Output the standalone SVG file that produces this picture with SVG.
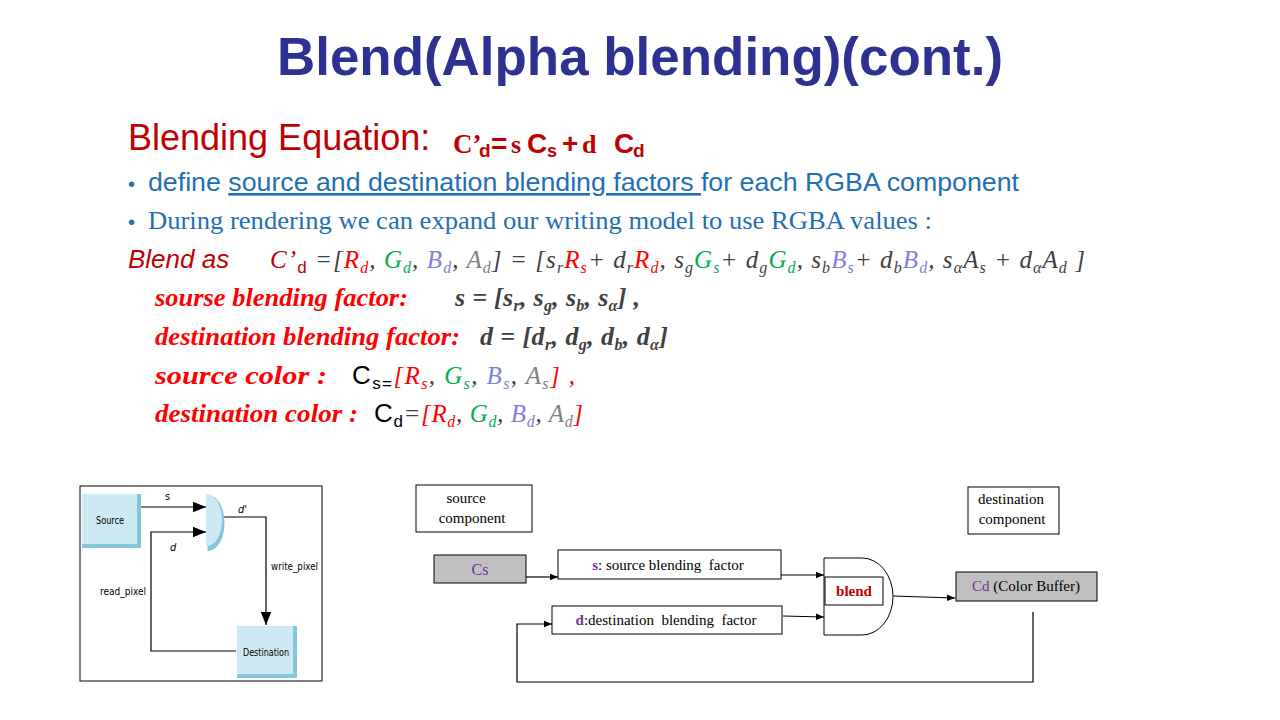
<svg xmlns="http://www.w3.org/2000/svg" width="1280" height="720" viewBox="0 0 1280 720">
<defs>
<marker id="ah" viewBox="0 0 10 10" refX="10" refY="5" markerWidth="8" markerHeight="8" markerUnits="userSpaceOnUse" orient="auto"><path d="M0,1 L10,5 L0,9 z" fill="#000"/></marker>
<marker id="ahL" viewBox="0 0 10 10" refX="10" refY="5" markerWidth="13" markerHeight="13" markerUnits="userSpaceOnUse" orient="auto"><path d="M0,1 L10,5 L0,9 z" fill="#000"/></marker>
</defs>
<style>
.sans{font-family:"Liberation Sans",Arial,sans-serif}
.serif{font-family:"Liberation Serif","Times New Roman",serif}
.eq{font-family:"Liberation Serif",serif;font-style:italic;font-size:25px;fill:#404040}
.bi{font-family:"Liberation Serif",serif;font-style:italic;font-weight:bold;font-size:26px}
.sub{font-size:16px}
.r{fill:#FF0000}.g{fill:#00B050}.b{fill:#8080E0}.a{fill:#808080}.k{fill:#404040}.dr{fill:#C00000}
.box{fill:#fff;stroke:#000;stroke-width:1}
.gbox{fill:#C0C0C0;stroke:#000;stroke-width:1}
.ln{fill:none;stroke:#000;stroke-width:1.2}
.lb{fill:#CDE9F3}
.lbs{fill:#86C5DB}
.small{font-family:"Liberation Serif",serif;font-size:15px;fill:#000;white-space:pre}
.cond{font-family:"Liberation Sans Narrow","DejaVu Sans Condensed","Liberation Sans",sans-serif;font-size:11px;fill:#000}
</style>
<rect width="1280" height="720" fill="#fff"/>

<g id="title">
<text x="640" y="75" text-anchor="middle" class="sans" font-weight="bold" font-size="53" fill="#2E3192" textLength="726" lengthAdjust="spacingAndGlyphs">Blend(Alpha  blending)(cont.)</text>
</g>

<g id="equation-heading">
<text x="128" y="150" class="sans" font-size="36" fill="#C00000">Blending Equation:</text>
<text y="153" fill="#C00000" font-weight="bold">
<tspan x="453" class="serif" font-size="27">C’</tspan><tspan x="479" class="sans" font-size="19" dy="4">d</tspan><tspan x="491" class="sans" font-size="28" dy="-4">=</tspan><tspan x="511" class="serif" font-size="26">s</tspan><tspan x="527" class="sans" font-size="28">C</tspan><tspan x="547" class="sans" font-size="18" dy="4">s</tspan><tspan x="562" dy="-4" class="sans" font-size="28">+</tspan><tspan x="582" class="serif" font-size="26">d</tspan><tspan x="614" class="sans" font-size="28">C</tspan><tspan x="633" class="sans" font-size="19" dy="4">d</tspan>
</text>
</g>

<g id="bullets" fill="#1F6FB4">
<text x="128" y="191" class="sans" font-size="20">•</text>
<text x="148" y="191" class="sans" font-size="26" textLength="871" lengthAdjust="spacingAndGlyphs">define <tspan text-decoration="underline">source and destination blending factors </tspan>for each RGBA component</text>
<text x="128" y="229" class="sans" font-size="20">•</text>
<text x="148" y="229" class="serif" font-size="25" textLength="784" lengthAdjust="spacingAndGlyphs">During rendering we can expand our writing model to use RGBA values :</text>
</g>

<g id="blend-as">
<text x="128" y="268" class="sans" font-style="italic" font-size="26" fill="#C00000">Blend as</text>
<text x="270" y="268" class="eq" textLength="815" lengthAdjust="spacing"><tspan class="dr">C’</tspan><tspan class="sans dr" font-style="normal" font-size="17" dy="5">d</tspan><tspan dy="-5"> =[</tspan><tspan class="r">R</tspan><tspan class="r" font-size="16" dy="5">d</tspan><tspan dy="-5">, </tspan><tspan class="g">G</tspan><tspan class="g" font-size="16" dy="5">d</tspan><tspan dy="-5">, </tspan><tspan class="b">B</tspan><tspan class="b" font-size="16" dy="5">d</tspan><tspan dy="-5">, </tspan><tspan class="a">A</tspan><tspan class="a" font-size="16" dy="5">d</tspan><tspan dy="-5">] = [s</tspan><tspan font-size="16" dy="5">r</tspan><tspan class="r" dy="-5">R</tspan><tspan class="r" font-size="16" dy="5">s</tspan><tspan dy="-5">+ d</tspan><tspan font-size="16" dy="5">r</tspan><tspan class="r" dy="-5">R</tspan><tspan class="r" font-size="16" dy="5">d</tspan><tspan dy="-5">,  s</tspan><tspan font-size="16" dy="5">g</tspan><tspan class="g" dy="-5">G</tspan><tspan class="g" font-size="16" dy="5">s</tspan><tspan dy="-5">+ d</tspan><tspan font-size="16" dy="5">g</tspan><tspan class="g" dy="-5">G</tspan><tspan class="g" font-size="16" dy="5">d</tspan><tspan dy="-5">, s</tspan><tspan font-size="16" dy="5">b</tspan><tspan class="b" dy="-5">B</tspan><tspan class="b" font-size="16" dy="5">s</tspan><tspan dy="-5">+  d</tspan><tspan font-size="16" dy="5">b</tspan><tspan class="b" dy="-5">B</tspan><tspan class="b" font-size="16" dy="5">d</tspan><tspan dy="-5">, s</tspan><tspan font-size="16" dy="5">α</tspan><tspan dy="-5">A</tspan><tspan font-size="16" dy="5">s</tspan><tspan dy="-5"> + d</tspan><tspan font-size="16" dy="5">α</tspan><tspan dy="-5">A</tspan><tspan font-size="16" dy="5">d</tspan><tspan dy="-5"> ]</tspan></text>
</g>

<g id="factors">
<text x="155" y="306" class="bi r" textLength="253" lengthAdjust="spacingAndGlyphs">sourse blending factor:</text>
<text x="455" y="306" class="bi k" textLength="185" lengthAdjust="spacing">s = [s<tspan class="sub" dy="5">r</tspan><tspan dy="-5">, s</tspan><tspan class="sub" dy="5">g</tspan><tspan dy="-5">, s</tspan><tspan class="sub" dy="5">b</tspan><tspan dy="-5">, s</tspan><tspan class="sub" dy="5">α</tspan><tspan dy="-5">] ,</tspan></text>
<text x="155" y="345" class="bi r" textLength="305" lengthAdjust="spacingAndGlyphs">destination blending factor:</text>
<text x="480" y="345" class="bi k" textLength="188" lengthAdjust="spacing">d = [d<tspan class="sub" dy="5">r</tspan><tspan dy="-5">, d</tspan><tspan class="sub" dy="5">g</tspan><tspan dy="-5">, d</tspan><tspan class="sub" dy="5">b</tspan><tspan dy="-5">, d</tspan><tspan class="sub" dy="5">α</tspan><tspan dy="-5">]</tspan></text>
</g>

<g id="colors">
<text x="155" y="384" class="bi r" textLength="172" lengthAdjust="spacingAndGlyphs">source color :</text>
<text x="352" y="384" textLength="223" lengthAdjust="spacing"><tspan class="sans" font-size="26" fill="#000">C</tspan><tspan class="sans" font-size="17" fill="#000" dy="5">s=</tspan><tspan class="eq r" dy="-5">[R</tspan><tspan class="eq r sub" dy="5">s</tspan><tspan class="eq" dy="-5">, </tspan><tspan class="eq g">G</tspan><tspan class="eq g sub" dy="5">s</tspan><tspan class="eq" dy="-5">, </tspan><tspan class="eq b">B</tspan><tspan class="eq b sub" dy="5">s</tspan><tspan class="eq" dy="-5">, </tspan><tspan class="eq a">A</tspan><tspan class="eq a sub" dy="5">s</tspan><tspan class="eq r" dy="-5">] ,</tspan></text>
<text x="155" y="422" class="bi r" textLength="203" lengthAdjust="spacingAndGlyphs">destination color :</text>
<text x="374" y="422" textLength="209" lengthAdjust="spacing"><tspan class="sans" font-size="26" fill="#000">C</tspan><tspan class="sans" font-size="17" fill="#000" dy="5">d</tspan><tspan class="eq" fill="#000" dy="-5">=</tspan><tspan class="eq r">[R</tspan><tspan class="eq r sub" dy="5">d</tspan><tspan class="eq" dy="-5">, </tspan><tspan class="eq g">G</tspan><tspan class="eq g sub" dy="5">d</tspan><tspan class="eq" dy="-5">, </tspan><tspan class="eq b">B</tspan><tspan class="eq b sub" dy="5">d</tspan><tspan class="eq" dy="-5">, </tspan><tspan class="eq a">A</tspan><tspan class="eq a sub" dy="5">d</tspan><tspan class="eq r" dy="-5">]</tspan></text>
</g>

<g id="left-diagram">
<rect x="80" y="486" width="242" height="195" fill="#fff" stroke="#000" stroke-width="1"/>
<g id="l-connectors">
<line x1="140" y1="507" x2="206" y2="507" class="ln" marker-end="url(#ahL)"/>
<polyline points="236,651 151,651 151,532 206,532" class="ln" marker-end="url(#ahL)"/>
<polyline points="221,517 266,517 266,625" class="ln" marker-end="url(#ahL)"/>
</g>
<g id="l-source">
<rect x="82" y="494" width="59" height="54" class="lbs"/>
<rect x="82" y="494" width="55" height="50" class="lb"/>
<text x="110" y="524" text-anchor="middle" class="cond" textLength="28" lengthAdjust="spacingAndGlyphs">Source</text>
</g>
<g id="l-gate">
<path d="M206,494 L207,494 A16,28 0 0 1 207,550 L206,550 Z" class="lbs" transform="translate(1.5,1)"/>
<path d="M206,494 L207,494 A15,26 0 0 1 207,546 L206,546 Z" class="lb"/>
</g>
<g id="l-destination">
<rect x="237" y="626" width="60" height="52" class="lbs"/>
<rect x="237" y="626" width="56" height="48" class="lb"/>
<text x="266" y="656" text-anchor="middle" class="cond" textLength="46" lengthAdjust="spacingAndGlyphs">Destination</text>
</g>
<text x="165" y="500" class="cond">s</text>
<text x="170" y="551" class="cond" font-style="italic">d</text>
<text x="238" y="513" class="cond" font-style="italic">d'</text>
<text x="271" y="570" class="cond" textLength="47" lengthAdjust="spacingAndGlyphs">write_pixel</text>
<text x="100" y="595" class="cond" textLength="46" lengthAdjust="spacingAndGlyphs">read_pixel</text>
</g>

<g id="connectors">
<line x1="526" y1="577" x2="558" y2="577" class="ln" marker-end="url(#ah)"/>
<line x1="781" y1="575" x2="824" y2="575" class="ln" marker-end="url(#ah)"/>
<line x1="783" y1="616" x2="824" y2="617" class="ln" marker-end="url(#ah)"/>
<line x1="893" y1="596" x2="955" y2="598" class="ln" marker-end="url(#ah)"/>
<polyline points="1033,612 1033,682 517,682 517,624 552,624" class="ln" marker-end="url(#ah)"/>
</g>

<g id="source-component">
<rect x="416" y="485" width="116" height="47" class="box"/>
<text x="466" y="503" text-anchor="middle" class="small">source</text>
<text x="472" y="523" text-anchor="middle" class="small">component</text>
</g>

<g id="destination-component">
<rect x="968" y="487" width="91" height="47" class="box"/>
<text x="1011" y="504" text-anchor="middle" class="small">destination</text>
<text x="1012" y="524" text-anchor="middle" class="small">component</text>
</g>

<g id="cs">
<rect x="434" y="555" width="92" height="28" class="gbox"/>
<text x="480" y="575" text-anchor="middle" class="serif" font-size="16" fill="#7030A0">Cs</text>
</g>

<g id="s-factor">
<rect x="558" y="550" width="223" height="29" class="box"/>
<text x="668" y="570" text-anchor="middle" class="small"><tspan font-weight="bold" fill="#7030A0">s</tspan>: source blending  factor</text>
</g>

<g id="d-factor">
<rect x="552" y="606" width="230" height="28" class="box"/>
<text x="666" y="625" text-anchor="middle" class="small"><tspan font-weight="bold" fill="#7030A0">d</tspan>:destination  blending  factor</text>
</g>

<g id="blend">
<path d="M824,558 L862,558 A31,38.5 0 0 1 862,635 L824,635 Z" fill="#fff" stroke="#000" stroke-width="1"/>
<rect x="825" y="577" width="58" height="28" class="box"/>
<text x="854" y="596" text-anchor="middle" class="serif" font-weight="bold" font-size="15" fill="#C00000">blend</text>
</g>

<g id="cd">
<rect x="956" y="572" width="141" height="29" class="gbox"/>
<text x="1026" y="591" text-anchor="middle" class="small" font-size="16"><tspan fill="#7030A0">Cd</tspan> (Color Buffer)</text>
</g>
</svg>
